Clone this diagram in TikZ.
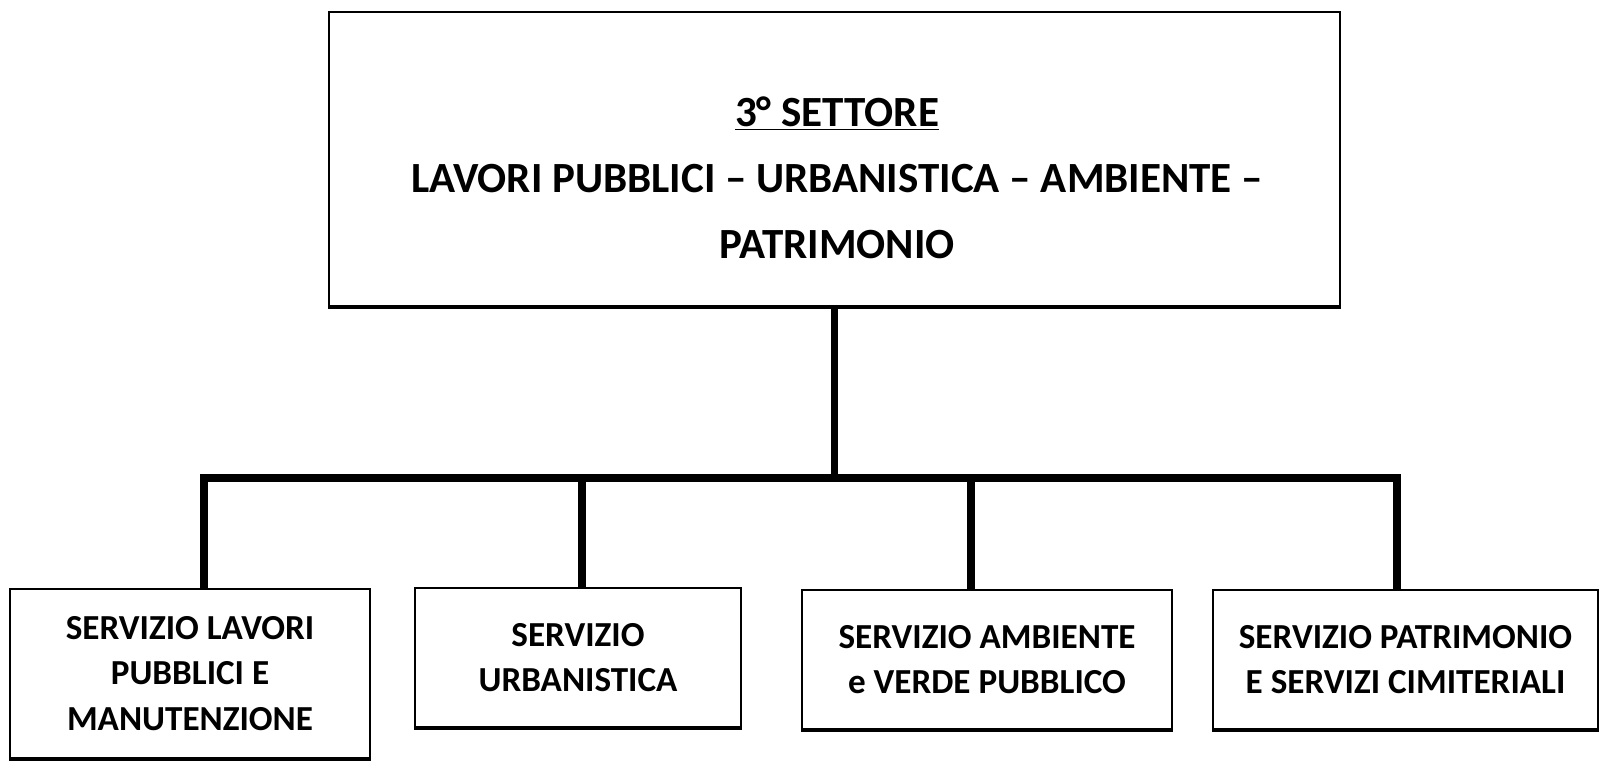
\documentclass[tikz,border=0pt]{standalone}
\usepackage{fontspec}
\setmainfont{Carlito}
\begin{document}
\begin{tikzpicture}[x=0.02cm,y=-0.02cm]
    \tikzstyle{every node}+=[inner sep=0pt]
    \tikzstyle{settbox}=[draw=black, line width=1pt]
    \tikzstyle{servbox}=[draw=black, line width=1pt, align=center, font=\bfseries\fontsize{20}{26}\selectfont]
    \tikzstyle{link}=[black, line width=4.2pt, line join=miter]
    \useasboundingbox (0,0) rectangle (1601,760);
    % settore
    \node [settbox, minimum width=20.22cm, minimum height=5.88cm] (settore) at (834.5,159) {};
    \node [align=center, font=\bfseries\fontsize{24.5}{37.5}\selectfont] (titolo) at (837,178)
        {\underline{3° SETTORE}\\LAVORI PUBBLICI \textendash{} URBANISTICA \textendash{} AMBIENTE \textendash\\PATRIMONIO};
    % servizi
    \node [servbox, minimum width=7.2cm, minimum height=3.38cm] (serv1) at (190,673.5) {SERVIZIO LAVORI\\PUBBLICI E\\MANUTENZIONE};
    \node [servbox, minimum width=6.52cm, minimum height=2.78cm] (serv2) at (578,657.5) {SERVIZIO\\URBANISTICA};
    \node [servbox, minimum width=7.4cm, minimum height=2.78cm] (serv3) at (987,659.5) {SERVIZIO AMBIENTE\\e VERDE PUBBLICO};
    \node [servbox, minimum width=7.7cm, minimum height=2.78cm] (serv4) at (1405.5,659.5) {SERVIZIO PATRIMONIO\\E SERVIZI CIMITERIALI};
    \foreach \n in {settore,serv1,serv2,serv3,serv4}
        \draw [black, line width=2.2pt] (\n.south west) -- (\n.south east);
    % collegamenti
    \coordinate (b1) at (204,478);
    \coordinate (b2) at (582,478);
    \coordinate (b3) at (971,478);
    \coordinate (b4) at (1397,478);
    \draw [link] (settore.south) -- (settore.south |- b1);
    \draw [link] (b1 |- serv1.north) -- (b1) -- (b4) -- (b4 |- serv4.north);
    \draw [link] (b2) -- (b2 |- serv2.north);
    \draw [link] (b3) -- (b3 |- serv3.north);
\end{tikzpicture}
\end{document}
